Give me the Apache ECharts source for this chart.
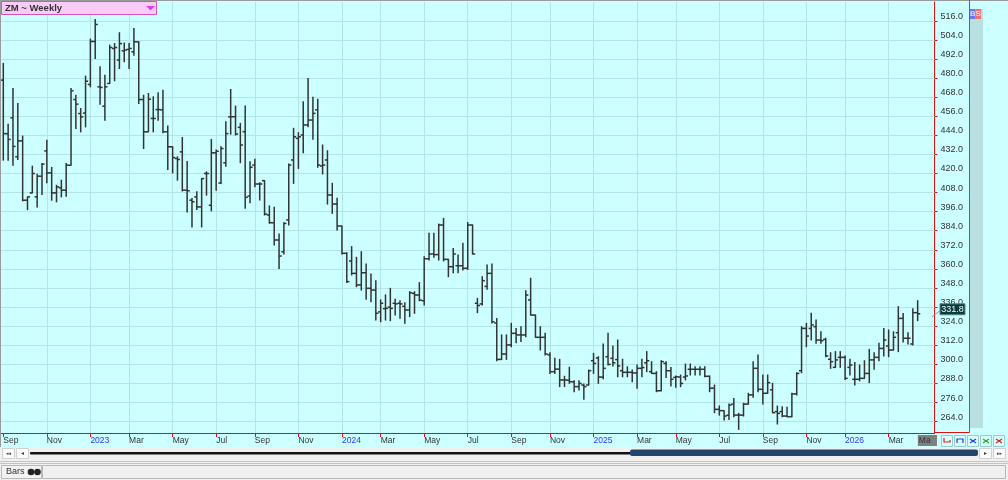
<!DOCTYPE html>
<html><head><meta charset="utf-8">
<script src="https://cdn.jsdelivr.net/npm/echarts@6/dist/echarts.min.js"></script>
<style>html,body{margin:0;padding:0;background:#f0f0f0;}#c{width:1008px;height:480px;}</style>
</head><body><div id="c"></div>
<script>
// ---- data ----
const firstWeek = '2022-09-02'; // weekly bars (Friday dates)
const opens = [478.7,445,455,430.5,440.5,403.2,407.8,405.3,418.3,434.2,
420.4,407.8,411,409.5,425.2,466.5,457.7,458,476,503,
474.5,462.3,476.6,498.6,491.3,497.1,498,496.5,502.8,466.5,
446.2,454.6,460.2,460,446.2,436.8,429.4,433.6,409.5,403.2,
405.3,399,420,400,433,414,426.7,455.6,455.7,449,
446.3,405.8,425.3,413.4,415.5,393.9,389,378.2,370.8,390.8,
428.5,442.1,444.2,450.5,453.6,460,424.7,428.5,406.5,400.8,
387,369.8,365,357.2,349.9,357.6,347.8,346.7,333,335,
336,338.4,338.4,336.5,334.2,344.6,343.6,340,366.4,369.4,
369,387.6,366,361.4,362,362,360.4,387.6,338.4,338,
349,357.2,326,303.1,306.5,312.2,319.5,318.5,318.5,340.5,
331,317,317,306,295.4,297,290.2,290,289,286,
287,287,302.3,304,292,304.8,303.8,303,296,295,
295,294.6,297.5,301,295.4,294.3,283.4,300.6,296,291.8,
292,292,296.9,296.9,296.9,296.9,292.5,285,271.7,270.9,
268,275,268.1,268.1,275,280.8,297.5,284.3,281.8,284,
270.3,270.3,267.5,267.1,281.4,296,322.6,322.6,323.7,315.3,
315.7,303.2,298.1,304.4,304.4,298.1,290.6,290.6,291.2,294.3,
302.8,304.4,310,311.5,309,319.9,328.9,316.4,312.8,332.5];
const highs = [489.2,451,473.4,464,443.5,405.3,424.6,419.6,426.3,440.9,
423.8,412.6,415.8,426.3,473.4,469.2,460.9,481.2,504.5,516.8,
487.1,481.8,500.7,501.7,508.5,502.1,501.7,511.2,502.8,469.2,
470.3,468.2,470.7,472.4,449.8,436.8,430.5,442.6,427.5,404.3,
408.5,416.8,421,441.4,434.7,436.8,452.5,472.8,462.4,451.5,
462.4,427.4,428.9,414.2,415.5,399.6,398.7,381.9,389.1,426,
448.4,445.7,465.1,479.8,467.9,466.6,437.9,434.3,413.8,404.4,
387,370.2,374,367.3,370.8,363.1,356.8,352.6,340.5,343.6,
347.8,340.9,340,338.8,345.7,345.7,351.4,367.7,382.4,382.4,
388.2,391.8,366,372.9,368.7,376.1,389.1,387.6,341.5,355.1,
362.5,363.1,328.9,318.5,318.5,325.8,322.6,323.7,346.3,354.1,
331,323.7,319.5,307.3,303.8,303.1,292.5,298.2,289.7,289.7,
287.6,296.4,306.9,304.8,312.8,319.5,311.5,315.3,303.2,298.5,
296.4,299.6,303.2,308,301.7,295.4,302.3,301.7,298.1,292.7,
293.3,300.2,300.2,298.5,298.5,298.5,292.7,287,273.8,270.9,
275,278.6,269.2,275.5,281.8,301.7,305.9,293.3,293.3,288.1,
273.8,273.4,273,281.8,294.7,323.7,325.8,332.1,327.9,320.5,
316.4,307.3,308,308,305.3,303.2,301.1,299.6,302.3,309.4,
307.3,313.2,322.6,321.6,320.5,336.3,332,319.9,335,340];
const lows = [428.4,428.4,425.2,428.8,402.8,397.3,407.8,399,406.8,414.1,
403.2,402.2,405.3,405.7,425.2,448.3,446.2,449.3,474.5,492.3,
463.6,453.5,476.6,478.3,486,490.2,486,494.4,464,435.7,
446.2,446.2,453.5,445.6,422.5,420.4,415.8,409,395.8,386.4,
397.3,386.4,406.4,396.5,409.5,413.7,424.6,444.7,444.2,426.8,
398.1,401.6,411.7,403.3,393.9,388.7,375,360.3,369.4,387.6,
413.8,423.2,433.1,449.4,441.5,423.9,419.7,400.8,394.9,384.5,
369.4,351.4,356.2,348.8,346.7,340.9,339.4,327.9,326.8,327.9,
327.5,331,329,325.8,330,332.1,340,337.3,365.6,367.3,
365.6,365,355.1,357.6,357.6,359.3,359.7,369.4,332.5,337.3,
347.2,326,302.3,303.1,303.1,311.1,313.6,314.3,317.4,331,
317,309,305.9,294.3,294.3,286,286,288.1,282.8,283.9,
278,287,294.3,288.1,291,299.6,299,292.2,292.2,292.2,
289.1,284.9,292.2,295.4,294.3,282.8,283.4,291.8,286.4,285.6,
286,290.2,293.3,293.3,293.3,292.2,282.8,269.6,268.1,265,
265.4,267.1,259.1,267.5,275,279.3,282.8,275,281.8,269.6,
262.5,267.1,267.1,267.1,280.7,294.7,311.1,315.3,313.2,313.2,
304.8,297.5,298.1,298.1,290.5,293.3,287,289.7,291.2,288.5,
296.9,302.3,305.3,304.8,309,308,314,312.8,312.2,327.5];
const closes = [445.1,441.4,437,440.5,403.2,405.3,420,418.3,425.9,420.4,
407.8,411.6,409.5,425.2,472,463.6,455.6,478,503,513.7,
474.1,474.5,499.2,499.2,501.7,497.6,498.6,502.8,466.5,446.2,
466.7,454.6,460.2,446.2,436.8,430,428.8,409.5,409.1,402.2,
399,416.8,420,433,434,435.7,445.1,455.7,444.8,437.9,
405,423.9,413.4,413.4,394.5,389.1,378.2,368.1,388.6,425.3,
443.1,443.1,450.5,453.6,457.8,425.3,425.3,406.5,400.8,387,
369.8,352,357.2,349.9,357.6,347.8,346.7,332.1,338.4,335.2,
335.2,338,338,334.2,345,343.6,340.4,366.4,369.4,369,
387.6,366,361.4,369.4,362,360.4,387.6,369.4,337,352.6,
357.2,326.8,303.1,306.5,312.2,319.5,318.5,318.5,343.6,331,
317,317,306.5,295.4,297,290.2,290.2,289.1,286,288,
286,296,300.6,292,297.5,300,301,299,295,295,
294.6,297.5,298,302.3,294.3,283.4,301.7,296,290.6,292.2,
288,292.7,296.9,296.9,296.9,292.5,285,271.7,270.9,267.5,
274.4,268.1,268.1,275,280.8,297.5,284.3,281.8,288.5,269.6,
269.2,267.5,267.1,281.4,294.3,322.6,317.8,324.8,315.3,314.9,
305.3,301.7,302.8,304.4,291.2,299.6,290.6,291.2,294.3,302.8,
304.4,310,315.3,309,317,328.9,316.4,316.4,332.5,331.8];
const priceTicks = [264,276,288,300,312,324,336,348,360,372,384,396,408,420,432,444,456,468,480,492,504,516];
const monthAbbr = ['Jan','Feb','Mar','Apr','May','Jun','Jul','Aug','Sep','Oct','Nov','Dec'];
const labelMonths = [0,2,4,6,8,10];
const lastPriceText = '331.8';

// ---- derived ----
const dates = [];
{ const d0 = new Date(firstWeek + 'T00:00:00Z');
  for (let i = 0; i < opens.length + 4; i++) dates.push(new Date(d0.getTime() + i * 7 * 86400000)); }
const monthTickIdx = [];
for (let i = 0; i < dates.length; i++) {
  const m = dates[i].getUTCMonth();
  if ((i === 0 || m !== dates[i - 1].getUTCMonth()) && labelMonths.includes(m)) monthTickIdx.push(i);
}
const visTicks = monthTickIdx.filter(i => i < opens.length);
const ohlc = opens.map((o, i) => [i, o, highs[i], lows[i], closes[i]]);

const chart = echarts.init(document.getElementById('c'), null, {renderer: 'canvas'});
const gridCol = '#b4e4e4';
const red = '#e01010';
const gridLines = visTicks.filter(i => i > 0).map(i => ({xAxis: i})).concat(priceTicks.map(v => ({yAxis: v})));
const option = {
  backgroundColor: '#ccffff',
  animation: false,
  grid: {left: 1, right: 73.5, top: 2, bottom: 47, containLabel: false},
  xAxis: {
    type: 'value', min: -0.475, max: 192.48,
    axisLine: {show: true, onZero: false, lineStyle: {color: red, width: 1}},
    axisTick: {show: true, length: 4, lineStyle: {color: red}, customValues: visTicks},
    splitLine: {show: false},
    axisLabel: {
      customValues: visTicks, align: 'left', margin: 3, verticalAlign: 'top',
      fontFamily: 'Liberation Sans', fontSize: 8.5, color: '#333',
      formatter: v => { const d = dates[Math.round(v)]; const m = d.getUTCMonth();
        return m === 0 ? '{y|' + d.getUTCFullYear() + '}' : monthAbbr[m]; },
      rich: {y: {color: '#3333ff', fontFamily: 'Liberation Sans', fontSize: 8.5}}
    }
  },
  yAxis: {
    type: 'value', position: 'right', min: 256.84, max: 527.82,
    axisLine: {show: true, onZero: false, lineStyle: {color: red, width: 1}},
    axisTick: {show: true, inside: false, length: 3, lineStyle: {color: red}, customValues: priceTicks},
    splitLine: {show: false},
    axisLabel: {customValues: priceTicks, margin: 6, verticalAlign: 'bottom',
      fontFamily: 'Liberation Sans', fontSize: 9, color: '#333',
      formatter: v => v.toFixed(1)}
  },
  series: [{
    type: 'line', data: [], z: 1, silent: true,
    markLine: {silent: true, symbol: ['none', 'none'], animation: false,
      label: {show: false}, lineStyle: {color: gridCol, type: 'solid', width: 1},
      emphasis: {disabled: true}, data: gridLines}
  }, {
    type: 'custom', clip: true, z: 5,
    encode: {x: 0, y: [1, 2, 3, 4]},
    data: ohlc,
    renderItem: function (params, api) {
      const x = api.value(0);
      const pO = api.coord([x, api.value(1)]);
      const pH = api.coord([x, api.value(2)]);
      const pL = api.coord([x, api.value(3)]);
      const pC = api.coord([x, api.value(4)]);
      const w = 2.6;
      const st = {stroke: '#333', lineWidth: 1.5};
      return {type: 'group', children: [
        {type: 'line', shape: {x1: pH[0], y1: pH[1] - 0.5, x2: pL[0], y2: pL[1] + 0.5}, style: st},
        {type: 'line', shape: {x1: pO[0] - w, y1: pO[1], x2: pO[0], y2: pO[1]}, style: st},
        {type: 'line', shape: {x1: pC[0], y1: pC[1], x2: pC[0] + w, y2: pC[1]}, style: st}
      ]};
    }
  }]
};
chart.setOption(option);

// ---- decorations ----
const lastIdx = closes.length - 1;
const pLast = chart.convertToPixel({xAxisIndex: 0, yAxisIndex: 0}, [lastIdx, closes[lastIdx]]);
const nextMay = monthTickIdx.find(i => i >= opens.length);
const pMay = chart.convertToPixel({xAxisIndex: 0, yAxisIndex: 0}, [nextMay, 300]);
const btn = (x, y, w, h, fill, stroke) => ({type: 'rect', shape: {x, y, width: w, height: h}, style: {fill, stroke, lineWidth: 1}});
const g = [];
// title box
g.push(btn(1.5, 1.5, 155, 13, '#f8ccf8', '#cc55cc'));
g.push({type: 'text', x: 5, y: 8.5, style: {text: 'ZM ~ Weekly', font: 'bold 9.5px "Liberation Sans"', fill: '#333', verticalAlign: 'middle'}});
g.push({type: 'polygon', shape: {points: [[146, 6], [155, 6], [150.5, 10.5]]}, style: {fill: '#e040e0'}});
// borders
g.push({type: 'line', shape: {x1: 0, y1: 0.5, x2: 1008, y2: 0.5}, style: {stroke: '#9a9a9a', lineWidth: 1}});
g.push({type: 'line', shape: {x1: 0.5, y1: 0, x2: 0.5, y2: 447}, style: {stroke: '#9a9a9a', lineWidth: 1}});
// price panel border + right strip
g.push({type: 'line', shape: {x1: 934, y1: 432.5, x2: 969.5, y2: 432.5}, style: {stroke: red, lineWidth: 1}});
g.push({type: 'line', shape: {x1: 969.5, y1: 0, x2: 969.5, y2: 432.5}, style: {stroke: '#c04040', lineWidth: 1}});
g.push({type: 'rect', shape: {x: 970, y: 9, width: 13, height: 419}, style: {fill: '#b8e0e0'}});
g.push({type: 'rect', shape: {x: 970, y: 9, width: 5.5, height: 10}, style: {fill: '#6a78ee'}});
g.push({type: 'rect', shape: {x: 975.5, y: 9, width: 5.5, height: 10}, style: {fill: '#ee7070'}});
g.push({type: 'text', x: 972.7, y: 14, style: {text: 'B', font: '8px "Liberation Sans"', fill: '#fff', align: 'center', verticalAlign: 'middle'}});
g.push({type: 'text', x: 978.2, y: 14, style: {text: 'S', font: '8px "Liberation Sans"', fill: '#fff', align: 'center', verticalAlign: 'middle'}});
// last price label
g.push({type: 'line', shape: {x1: 932, y1: pLast[1] + 3, x2: 940, y2: pLast[1] - 3}, style: {stroke: '#999', lineWidth: 1}});
g.push({type: 'rect', shape: {x: 940, y: pLast[1] - 10, width: 25, height: 11}, style: {fill: '#0d3a3a', stroke: '#5a8a8a', lineWidth: 1}});
g.push({type: 'text', x: 952.5, y: pLast[1] - 4.3, style: {text: lastPriceText, font: '9px "Liberation Sans"', fill: '#e8ffff', align: 'center', verticalAlign: 'middle'}});
// next month marker box (cursor date box)
const mayBoxX = pMay[0] - 9.5;
g.push({type: 'rect', shape: {x: mayBoxX, y: 435, width: 937 - mayBoxX, height: 11}, style: {fill: '#808080'}});
g.push({type: 'text', x: mayBoxX + 1, y: 441, style: {text: 'Ma', font: '8.5px "Liberation Sans"', fill: '#333', verticalAlign: 'middle'}});
// navigation buttons in axis row
const navCols = ['#e02020', '#2040e0', '#2040e0', '#20b020', '#e02020'];
navCols.forEach((c, k) => {
  const x = 941 + k * 13;
  g.push(btn(x + 0.5, 435.5, 11, 11, '#d8ffff', '#9cc'));
  g.push({type: 'polyline', shape: {points: k === 0 ? [[x + 3, 438], [x + 3, 442], [x + 9, 442], [x + 9, 440]] : k === 1 ? [[x + 3, 443], [x + 3, 439], [x + 9, 439], [x + 9, 443]] : [[x + 3, 439], [x + 6, 441], [x + 9, 439], [x + 6, 441], [x + 3, 443], [x + 6, 441], [x + 9, 443]]}, style: {stroke: c, lineWidth: 1.2, fill: null}});
});
// scroll / status area
g.push({type: 'rect', shape: {x: 0, y: 447, width: 1008, height: 33}, style: {fill: '#f0f0f0'}});
g.push(btn(2.5, 448.5, 12, 10, '#fafafa', '#d0d0d0'));
g.push(btn(16.5, 448.5, 12, 10, '#fafafa', '#d0d0d0'));
g.push({type: 'text', x: 8.5, y: 453.5, style: {text: '◂◂', font: '5px "DejaVu Sans"', fill: '#444', align: 'center', verticalAlign: 'middle'}});
g.push({type: 'text', x: 22.5, y: 453.5, style: {text: '◂', font: '6px "DejaVu Sans"', fill: '#444', align: 'center', verticalAlign: 'middle'}});
g.push({type: 'rect', shape: {x: 30, y: 452, width: 602, height: 2.4, r: 1}, style: {fill: '#111'}});
g.push({type: 'rect', shape: {x: 630, y: 449.5, width: 348, height: 6.5, r: 2}, style: {fill: '#23466d'}});
g.push(btn(979.5, 448.5, 12, 10, '#fafafa', '#d0d0d0'));
g.push(btn(993.5, 448.5, 12, 10, '#fafafa', '#d0d0d0'));
g.push({type: 'text', x: 985.5, y: 453.5, style: {text: '▸', font: '6px "DejaVu Sans"', fill: '#444', align: 'center', verticalAlign: 'middle'}});
g.push({type: 'text', x: 999.5, y: 453.5, style: {text: '▸▸', font: '5px "DejaVu Sans"', fill: '#444', align: 'center', verticalAlign: 'middle'}});
g.push({type: 'line', shape: {x1: 0, y1: 461.5, x2: 1008, y2: 461.5}, style: {stroke: '#c4c4c4', lineWidth: 1}});
g.push({type: 'line', shape: {x1: 0, y1: 463.5, x2: 1008, y2: 463.5}, style: {stroke: '#c4c4c4', lineWidth: 1}});
g.push(btn(1.5, 465.5, 40, 13, '#f2f2f2', '#b8b8b8'));
g.push(btn(42.5, 465.5, 963, 13, '#f0f0f0', '#b8b8b8'));
g.push({type: 'text', x: 6, y: 472, style: {text: 'Bars', font: '9px "Liberation Sans"', fill: '#333', verticalAlign: 'middle'}});
g.push({type: 'circle', shape: {cx: 31, cy: 472, r: 3.3}, style: {fill: '#222'}});
g.push({type: 'circle', shape: {cx: 37.5, cy: 472, r: 3.3}, style: {fill: '#222'}});
chart.setOption({graphic: {elements: g.map(e => Object.assign({z: 100, silent: true}, e))}});
</script>
</body></html>
